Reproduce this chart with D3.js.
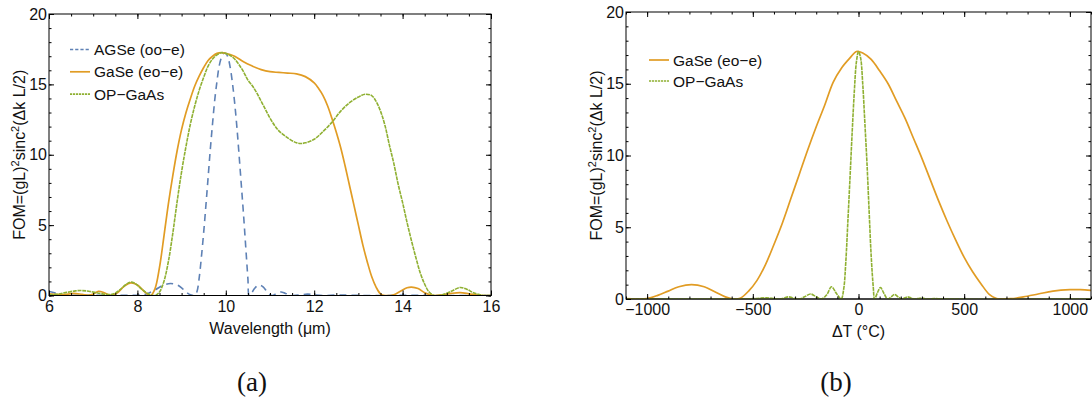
<!DOCTYPE html>
<html>
<head>
<meta charset="utf-8">
<script src="https://cdn.jsdelivr.net/npm/d3@7"></script>
<style>
  html, body { margin: 0; padding: 0; background: #fff; }
  svg { display: block; }
  text { font-family: "Liberation Sans", Arial, sans-serif; fill: #111; }
</style>
</head>
<body>
<svg id="fig" width="1092" height="404"></svg>
<script>
// ---------- Panel (a): FOM versus wavelength ----------
const wlTicks = [6, 8, 10, 12, 14, 16];
const fomTicks = [0, 5, 10, 15, 20];

const agseWl = [6.0, 6.1, 6.2, 6.3, 6.4, 6.6, 7.0, 7.5, 8.0, 8.2, 8.4, 8.6, 8.75, 8.9, 9.0, 9.1, 9.2, 9.3,
  9.35, 9.4, 9.45, 9.5, 9.55, 9.6, 9.65, 9.7, 9.75, 9.8, 9.85, 9.9, 9.95, 10.0, 10.05, 10.1, 10.15, 10.2,
  10.25, 10.3, 10.35, 10.4, 10.45, 10.5, 10.53, 10.6, 10.65, 10.75, 10.85, 10.95, 11.05, 11.15, 11.25,
  11.35, 11.5, 11.7, 11.85, 12.0, 12.2, 12.5, 12.8, 13.2, 14.0, 15.0, 16.0];
const agseFom = [0.28, 0.22, 0.12, 0.05, 0.02, 0.01, 0.01, 0.01, 0.02, 0.1, 0.4, 0.75, 0.85, 0.75, 0.55, 0.25, 0.05, 0.0,
  0.3, 1.3, 2.8, 4.5, 6.4, 8.4, 10.4, 12.2, 13.9, 15.2, 16.3, 16.9, 17.2, 17.2, 16.9, 16.2, 15.1, 13.7,
  12.0, 10.0, 7.9, 5.8, 3.5, 1.2, 0.0, 0.25, 0.5, 0.75, 0.6, 0.2, 0.0, 0.15, 0.25,
  0.15, 0.0, 0.05, 0.1, 0.05, 0.0, 0.03, 0.02, 0.0, 0.01, 0.0, 0.0];

const gaseWl = [6.0, 6.2, 6.4, 6.55, 6.75, 6.9, 7.0, 7.12, 7.25, 7.4, 7.55, 7.7, 7.85, 8.0, 8.15, 8.3, 8.4,
  8.5, 8.6, 8.7, 8.8, 8.9, 9.0, 9.1, 9.2, 9.3, 9.4, 9.5, 9.6, 9.7, 9.8, 9.9, 10.0, 10.2, 10.4, 10.6, 10.8,
  11.0, 11.2, 11.4, 11.6, 11.8, 12.0, 12.1, 12.2, 12.3, 12.4, 12.5, 12.6, 12.7, 12.8, 12.9, 13.0, 13.1,
  13.2, 13.3, 13.4, 13.5, 13.6, 13.8, 13.95, 14.1, 14.2, 14.35, 14.5, 14.7, 14.9, 15.1, 15.3, 15.5, 15.7,
  15.85, 16.0];
const gaseFomA = [0.12, 0.06, 0.08, 0.15, 0.08, 0.02, 0.1, 0.3, 0.2, 0.0, 0.2, 0.65, 0.9, 0.75, 0.3, 0.0, 0.5,
  2.0, 4.2, 6.5, 8.5, 10.3, 11.8, 13.0, 14.0, 14.9, 15.6, 16.2, 16.7, 17.0, 17.2, 17.25, 17.2, 17.0, 16.6, 16.3, 16.05,
  15.9, 15.85, 15.8, 15.75, 15.55, 15.1, 14.7, 14.2, 13.5, 12.6, 11.6, 10.5, 9.2, 7.8, 6.4, 5.0, 3.6,
  2.4, 1.35, 0.6, 0.12, 0.0, 0.05, 0.3, 0.55, 0.6, 0.5, 0.2, 0.0, 0.05, 0.15, 0.2, 0.12, 0.02,
  0.0, 0.0];

const opWl = [6.0, 6.2, 6.4, 6.6, 6.75, 6.9, 7.1, 7.3, 7.45, 7.6, 7.75, 7.85, 7.95, 8.1, 8.25, 8.4, 8.5, 8.6,
  8.7, 8.8, 8.9, 9.0, 9.1, 9.2, 9.3, 9.4, 9.5, 9.6, 9.7, 9.8, 9.9, 10.0, 10.1, 10.2, 10.3, 10.4, 10.5, 10.6,
  10.7, 10.8, 10.9, 11.0, 11.1, 11.2, 11.4, 11.6, 11.7, 11.8, 12.0, 12.2, 12.4, 12.6, 12.8, 13.0, 13.15,
  13.3, 13.4, 13.5, 13.6, 13.7, 13.8, 13.9, 14.0, 14.1, 14.2, 14.3, 14.4, 14.5, 14.6, 14.72, 14.9, 15.1,
  15.3, 15.45, 15.6, 15.8, 16.0];
const opFomA = [0.05, 0.1, 0.22, 0.33, 0.35, 0.3, 0.18, 0.08, 0.1, 0.4, 0.8, 0.95, 0.85, 0.45, 0.1, 0.0, 0.25, 1.0,
  2.4, 4.4, 6.7, 8.8, 10.6, 12.2, 13.5, 14.6, 15.5, 16.3, 16.8, 17.1, 17.25, 17.2, 17.05, 16.8, 16.4, 15.9, 15.3, 14.9,
  14.4, 13.8, 13.2, 12.6, 12.1, 11.7, 11.2, 10.85, 10.8, 10.85, 11.1, 11.65, 12.3, 13.1, 13.7, 14.1, 14.3,
  14.2, 13.8, 13.1, 12.1, 10.7, 9.4, 7.9, 6.6, 5.2, 3.9, 2.7, 1.6, 0.8, 0.25, 0.0, 0.05, 0.3,
  0.57, 0.45, 0.2, 0.02, 0.0];

// ---------- Panel (b): FOM versus temperature detuning ----------
const dtTicks = [-1000, -500, 0, 500, 1000];

const gaseT = [-1100, -1050, -1000, -950, -900, -850, -790, -730, -680, -630, -590, -560, -520, -480, -440,
  -400, -360, -320, -280, -240, -200, -160, -120, -80, -40, -10, 20, 60, 100, 140, 180, 220, 260, 300, 340,
  380, 420, 460, 500, 540, 580, 620, 650, 670, 720, 780, 850, 920, 1000, 1050, 1100];
const gaseFomB = [0.02, 0.0, 0.03, 0.25, 0.55, 0.85, 1.0, 0.85, 0.5, 0.15, 0.0, 0.05, 0.55, 1.3, 2.4,
  3.8, 5.3, 7.0, 8.7, 10.4, 12.0, 13.5, 15.1, 16.1, 16.8, 17.25, 17.15, 16.7, 15.9, 15.0, 13.8, 12.6, 11.2, 9.8, 8.3,
  6.8, 5.4, 4.1, 2.9, 1.9, 1.05, 0.3, 0.05, 0.0, 0.02, 0.15, 0.35, 0.55, 0.65, 0.65, 0.6];

const opT = [-1100, -700, -520, -480, -436, -400, -380, -355, -331, -305, -280, -255, -227, -200, -175,
  -150, -128, -105, -82, -70, -60, -50, -40, -30, -20, -10, 0, 10, 20, 30, 40, 50, 60, 70, 76, 90, 104,
  120, 138, 155, 170, 190, 205, 220, 232, 250, 265, 285, 297, 315, 330, 360, 400, 1100];
const opFomB = [0.0, 0.0, 0.01, 0.04, 0.08, 0.03, 0.0, 0.05, 0.15, 0.05, 0.0, 0.15, 0.35, 0.15, 0.0,
  0.3, 0.85, 0.4, 0.0, 0.7, 2.6, 5.5, 8.5, 11.6, 14.4, 16.5, 17.25, 16.8, 15.0, 12.3, 9.5, 6.2, 3.0, 0.8, 0.0, 0.45, 0.8,
  0.4, 0.0, 0.15, 0.32, 0.12, 0.0, 0.08, 0.15, 0.06, 0.0, 0.04, 0.07, 0.02, 0.0, 0.03, 0.0, 0.0];

// ---------- Styles ----------
const styles = {
  agse: { color: "#5e81b5", width: 1.6, dash: "7,5", legendDash: "3.2,2" },
  gase: { color: "#e19c24", width: 1.7, dash: null, legendDash: null },
  op:   { color: "#8fb032", width: 1.6, dash: "4,0.8", legendDash: "2.2,0.8" }
};

const svg = d3.select("#fig");
const zip = (xs, ys) => xs.map((v, i) => [v, ys[i]]);

function drawPanel(cfg) {
  const x = d3.scaleLinear().domain(cfg.xDomain).range([cfg.left, cfg.right]);
  const y = d3.scaleLinear().domain([0, 20]).range([cfg.bottom, cfg.top]);
  const g = svg.append("g");

  const clipId = "clip-" + cfg.id;
  svg.append("defs").append("clipPath").attr("id", clipId)
    .append("rect")
    .attr("x", cfg.left).attr("y", cfg.top - 2)
    .attr("width", cfg.right - cfg.left).attr("height", cfg.bottom - cfg.top + 2);

  // zero axis line
  if (cfg.zeroLine) {
    g.append("line")
      .attr("x1", cfg.left).attr("x2", cfg.right)
      .attr("y1", y(0)).attr("y2", y(0))
      .attr("stroke", "#8c8c8c").attr("stroke-width", 2);
  }

  // curves (clamped to the zero baseline after smoothing)
  const line = d3.line()
    .x(d => x(d[0]))
    .y(d => y(d[1]))
    .curve(d3.curveCatmullRom.alpha(0.5));
  const curves = g.append("g").attr("clip-path", `url(#${clipId})`);
  cfg.series.forEach(s => {
    const st = styles[s.key];
    curves.append("path")
      .datum(zip(s.xs, s.ys))
      .attr("fill", "none")
      .attr("stroke", st.color)
      .attr("stroke-width", st.width)
      .attr("stroke-dasharray", st.dash)
      .attr("stroke-linejoin", "round")
      .attr("d", line);
  });

  // frame
  g.append("rect")
    .attr("x", cfg.left).attr("y", cfg.top)
    .attr("width", cfg.right - cfg.left).attr("height", cfg.bottom - cfg.top)
    .attr("fill", "none").attr("stroke", "#000").attr("stroke-width", 1);

  const fmt = d3.format("d");
  const xMinor = d3.range(cfg.xDomain[0], cfg.xDomain[1] + 1e-9, cfg.xMinorStep)
    .map(v => Math.round(v * 1000) / 1000);
  const yMinor = d3.range(0, 20.0001, 1);

  function tickAxis(axis, tr) {
    const a = g.append("g").attr("transform", tr).call(axis);
    a.select(".domain").remove();
    a.selectAll(".tick line").attr("stroke", "#000").attr("stroke-width", 1);
    a.selectAll("text")
      .style("font-family", '"Liberation Sans", Arial, sans-serif')
      .style("font-size", "16px").attr("fill", "#111");
    return a;
  }

  // bottom
  tickAxis(d3.axisBottom(x).tickValues(cfg.xTicks).tickSize(-5).tickPadding(5).tickFormat(fmt),
    `translate(0,${cfg.bottom})`);
  tickAxis(d3.axisBottom(x).tickValues(xMinor).tickSize(-2.5).tickFormat(""),
    `translate(0,${cfg.bottom})`);
  // top
  tickAxis(d3.axisTop(x).tickValues(cfg.xTicks).tickSize(-5).tickFormat(""), `translate(0,${cfg.top})`);
  tickAxis(d3.axisTop(x).tickValues(xMinor).tickSize(-2.5).tickFormat(""), `translate(0,${cfg.top})`);
  // left
  tickAxis(d3.axisLeft(y).tickValues(fomTicks).tickSize(-5).tickPadding(2).tickFormat(fmt),
    `translate(${cfg.left},0)`);
  tickAxis(d3.axisLeft(y).tickValues(yMinor).tickSize(-2.5).tickFormat(""), `translate(${cfg.left},0)`);
  // right
  tickAxis(d3.axisRight(y).tickValues(fomTicks).tickSize(-5).tickFormat(""), `translate(${cfg.right},0)`);
  tickAxis(d3.axisRight(y).tickValues(yMinor).tickSize(-2.5).tickFormat(""), `translate(${cfg.right},0)`);

  // x-axis title
  g.append("text")
    .attr("x", (cfg.left + cfg.right) / 2).attr("y", cfg.bottom + 38)
    .attr("text-anchor", "middle").style("font-size", "16px")
    .text(cfg.xLabel);

  // y-axis title with superscripts
  const yt = g.append("text")
    .attr("transform", `translate(${cfg.left - 24},${(cfg.top + cfg.bottom) / 2}) rotate(-90)`)
    .attr("text-anchor", "middle").style("font-size", "16px");
  yt.append("tspan").text("FOM=(gL)");
  yt.append("tspan").attr("dy", -6).style("font-size", "11px").text("2");
  yt.append("tspan").attr("dy", 6).text("sinc");
  yt.append("tspan").attr("dy", -6).style("font-size", "11px").text("2");
  yt.append("tspan").attr("dy", 6).text("(\u0394k L/2)");

  // legend
  const lg = g.append("g");
  cfg.legend.forEach((item, i) => {
    const st = styles[item.key];
    const ly = cfg.legendY + i * cfg.legendGap;
    lg.append("line")
      .attr("x1", cfg.legendX).attr("x2", cfg.legendX + cfg.legendLen)
      .attr("y1", ly).attr("y2", ly)
      .attr("stroke", st.color).attr("stroke-width", st.width)
      .attr("stroke-dasharray", st.legendDash);
    lg.append("text")
      .attr("x", cfg.legendX + cfg.legendLen + 4).attr("y", ly + 5.5)
      .style("font-size", "15.5px")
      .text(item.label);
  });

  // panel caption
  svg.append("text")
    .attr("x", cfg.captionX).attr("y", 391)
    .attr("text-anchor", "middle")
    .style("font-family", '"Liberation Serif", "DejaVu Serif", serif')
    .style("font-size", "27px")
    .text(cfg.caption);
}

drawPanel({
  id: "a", xDomain: [6, 16], xTicks: wlTicks, xMinorStep: 0.5,
  left: 49, right: 491, top: 14, bottom: 295.5,
  xLabel: "Wavelength (\u03bcm)",
  series: [
    { key: "agse", xs: agseWl, ys: agseFom },
    { key: "gase", xs: gaseWl, ys: gaseFomA },
    { key: "op",   xs: opWl,   ys: opFomA }
  ],
  legend: [
    { key: "agse", label: "AGSe (oo\u2212e)" },
    { key: "gase", label: "GaSe (eo\u2212e)" },
    { key: "op",   label: "OP\u2212GaAs" }
  ],
  legendX: 70, legendLen: 20, legendY: 49.5, legendGap: 22.3,
  caption: "(a)", captionX: 252
});

drawPanel({
  id: "b", xDomain: [-1100, 1100], xTicks: dtTicks, xMinorStep: 100,
  left: 626, right: 1091, top: 12, bottom: 299, zeroLine: true,
  xLabel: "\u0394T (\u00b0C)",
  series: [
    { key: "gase", xs: gaseT, ys: gaseFomB },
    { key: "op",   xs: opT,   ys: opFomB }
  ],
  legend: [
    { key: "gase", label: "GaSe (eo\u2212e)" },
    { key: "op",   label: "OP\u2212GaAs" }
  ],
  legendX: 649, legendLen: 20, legendY: 60, legendGap: 21,
  caption: "(b)", captionX: 836
});
</script>
</body>
</html>
